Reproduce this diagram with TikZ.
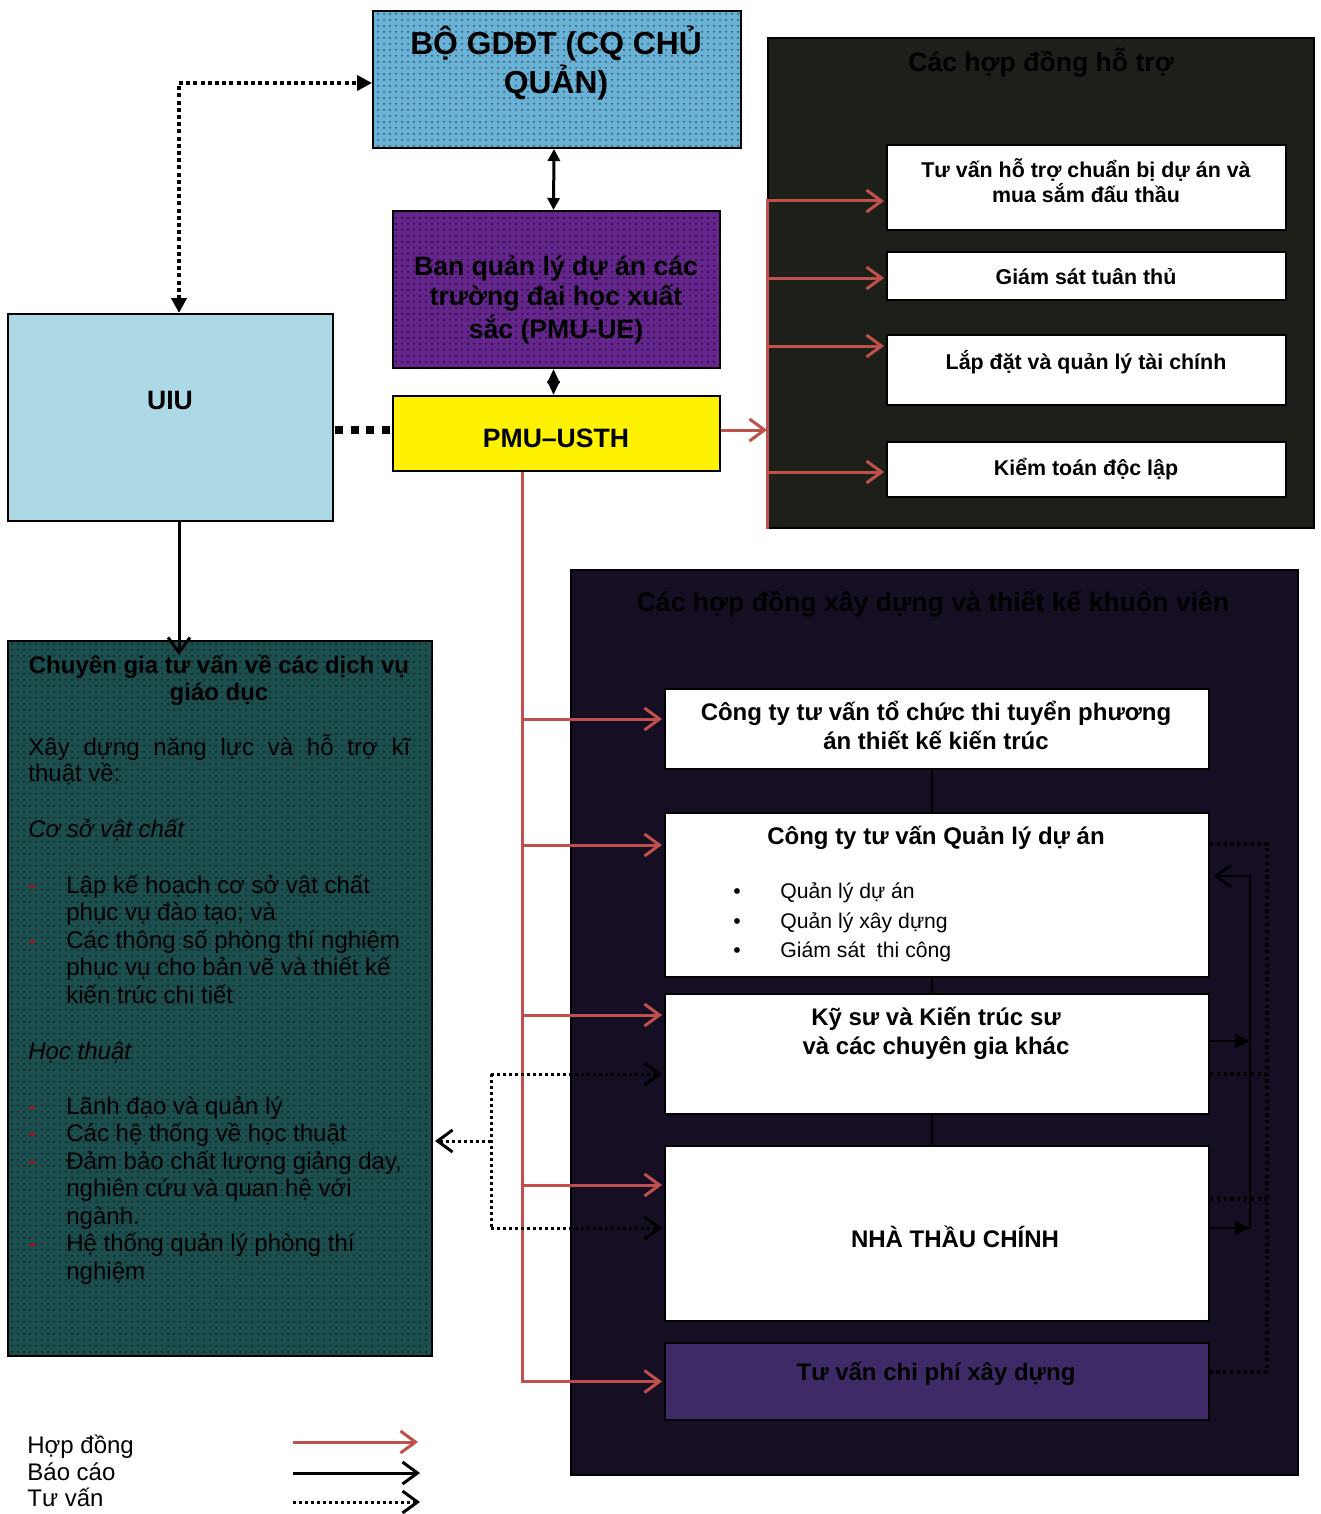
\documentclass[tikz,border=0pt]{standalone}
\usepackage{fontspec}
\setmainfont{Liberation Sans}
\usetikzlibrary{arrows.meta,patterns}
\definecolor{redc}{RGB}{192,80,77}
\definecolor{bofill}{RGB}{104,178,215}
\definecolor{bodot}{RGB}{60,80,90}
\definecolor{uefill}{RGB}{100,38,140}
\definecolor{uedot}{RGB}{30,10,40}
\definecolor{uiufill}{RGB}{173,216,230}
\definecolor{tealfill}{RGB}{28,78,78}
\definecolor{tealdot}{RGB}{10,35,35}
\definecolor{supfill}{RGB}{29,32,24}
\definecolor{confill}{RGB}{22,14,35}
\definecolor{costfill}{RGB}{62,42,102}
\tikzset{
  box/.style={draw=black,line width=1pt,inner sep=0pt,anchor=north west},
  tc/.style={inner sep=0pt,anchor=base},
  tl/.style={inner sep=0pt,anchor=base west},
  contract/.style={draw=redc,line width=1.5pt,-{Straight Barb[length=7.5pt,width=11pt]}},
  redline/.style={draw=redc,line width=1.5pt},
  report/.style={draw=black,line width=1.5pt,-{Straight Barb[length=7.5pt,width=11pt]}},
  advice/.style={draw=black,line width=1.5pt,dash pattern=on 1.5pt off 1.5pt,-{Straight Barb[length=7.5pt,width=11pt]}},
  advline/.style={draw=black,line width=1.5pt,dash pattern=on 1.5pt off 1.5pt},
  thinadv/.style={draw=black,line width=1.6pt,dash pattern=on 1.6pt off 1.8pt},
  fbA/.style={font=\fontsize{15.9pt}{18pt}\selectfont\bfseries},
  fbB/.style={font=\fontsize{13.3pt}{16pt}\selectfont\bfseries},
  fbC/.style={font=\fontsize{10.7pt}{13pt}\selectfont\bfseries},
  fbD/.style={font=\fontsize{12pt}{14pt}\selectfont\bfseries},
  frA/.style={font=\fontsize{10.6pt}{13pt}\selectfont},
  frB/.style={font=\fontsize{12pt}{14pt}\selectfont},
  fiB/.style={font=\fontsize{12pt}{14pt}\selectfont\itshape},
}
\begin{document}
\begin{tikzpicture}[x=0.5pt,y=-0.5pt]
\fill[white] (0,0) rectangle (1321,1514);
\useasboundingbox (0,0) rectangle (1321,1514);

% ---------- boxes ----------
\node[box,fill=bofill,postaction={pattern=dots,pattern color=bodot},minimum width=184pt,minimum height=68.5pt] (bo) at (372,10) {};
\node[box,fill=uefill,postaction={pattern=dots,pattern color=uedot},minimum width=163.5pt,minimum height=78.5pt] (ue) at (392,210) {};
\node[box,fill=yellow,minimum width=163.5pt,minimum height=37.5pt] (usth) at (392,395) {};
\node[box,fill=uiufill,minimum width=162.5pt,minimum height=103.5pt] (uiu) at (7,313) {};
\node[box,fill=tealfill,postaction={pattern=dots,pattern color=tealdot},minimum width=212pt,minimum height=357.5pt] (teal) at (7,640) {};
\node[box,fill=supfill,minimum width=273pt,minimum height=245pt] (sup) at (767,37) {};
\node[box,fill=white,minimum width=199.5pt,minimum height=42.5pt] (s1) at (886,144) {};
\node[box,fill=white,minimum width=199.5pt,minimum height=24pt] (s2) at (886,251) {};
\node[box,fill=white,minimum width=199.5pt,minimum height=35pt] (s3) at (886,334) {};
\node[box,fill=white,minimum width=199.5pt,minimum height=27.5pt] (s4) at (886,441) {};
\node[box,fill=confill,minimum width=363.5pt,minimum height=452.5pt] (con) at (570,569) {};
\node[box,fill=white,minimum width=272pt,minimum height=40pt] (c1) at (664,688) {};
\node[box,fill=white,minimum width=272pt,minimum height=82pt] (c2) at (664,812) {};
\node[box,fill=white,minimum width=272pt,minimum height=60pt] (c3) at (664,993) {};
\node[box,fill=white,minimum width=272pt,minimum height=87.5pt] (c4) at (664,1145) {};
\node[box,fill=costfill,minimum width=272pt,minimum height=38.5pt] (c5) at (664,1342) {};

% ---------- texts ----------
\node[tc,fbA] (tbo1) at (556,55) {BỘ GDĐT (CQ CHỦ};
\node[tc,fbA] (tbo2) at (556,94) {QUẢN)};
\node[tc,fbB] (tue1) at (556,275) {Ban quản lý dự án các};
\node[tc,fbB] (tue2) at (556,306) {trường đại học xuất};
\node[tc,fbB] (tue3) at (556,338) {sắc (PMU-UE)};
\node[tc,fbB] (tusth) at (556,447) {PMU–USTH};
\node[tc,fbB] (tuiu) at (170,409) {UIU};

\node[tc,fbB] (tsup) at (1041,72) {Các hợp đồng hỗ trợ};
\node[tc,fbC] (ts1a) at (1086,178) {Tư vấn hỗ trợ chuẩn bị dự án và};
\node[tc,fbC] (ts1b) at (1086,203) {mua sắm đấu thầu};
\node[tc,fbC] (ts2) at (1086,285) {Giám sát tuân thủ};
\node[tc,fbC] (ts3) at (1086,369) {Lắp đặt và quản lý tài chính};
\node[tc,fbC] (ts4) at (1086,475) {Kiểm toán độc lập};

\node[tc,fbB] (tcon) at (933,611) {Các hợp đồng xây dựng và thiết kế khuôn viên};
\node[tc,fbD] (tc1a) at (936,720) {Công ty tư vấn tổ chức thi tuyển phương};
\node[tc,fbD] (tc1b) at (936,749) {án thiết kế kiến trúc};
\node[tc,fbD] (tc2) at (936,844) {Công ty tư vấn Quản lý dự án};
\node[tc,frA] (bul1) at (737,898) {•};
\node[tc,frA] (bul2) at (737,928) {•};
\node[tc,frA] (bul3) at (737,957) {•};
\node[tl,frA] (tc2a) at (780,898) {Quản lý dự án};
\node[tl,frA] (tc2b) at (780,928) {Quản lý xây dựng};
\node[tl,frA] (tc2c) at (780,957) {Giám sát\ \ thi công};
\node[tc,fbD] (tc3a) at (936,1025) {Kỹ sư và Kiến trúc sư};
\node[tc,fbD] (tc3b) at (936,1054) {và các chuyên gia khác};
\node[tc,fbD] (tc4) at (955,1247) {NHÀ THẦU CHÍNH};
\node[tc,fbD] (tc5) at (936,1380) {Tư vấn chi phí xây dựng};

% teal box texts
\node[tc,fbD] (tt1) at (219,673) {Chuyên gia tư vấn về các dịch vụ};
\node[tc,fbD] (tt2) at (219,700) {giáo dục};
\node[tl,frB] (tp1) at (28,755) {\makebox[191pt][s]{Xây dựng năng lực và hỗ trợ kĩ}};
\node[tl,frB] (tp2) at (28,781) {thuật về:};
\node[tl,fiB] (th1) at (28,837) {Cơ sở vật chất};
\node[tl,frB,text=red!85!black] (d1) at (28,893) {-};
\node[tl,frB,text=red!85!black] (d2) at (28,948) {-};
\node[tl,frB,text=red!85!black] (d3) at (28,1114) {-};
\node[tl,frB,text=red!85!black] (d4) at (28,1141) {-};
\node[tl,frB,text=red!85!black] (d5) at (28,1169) {-};
\node[tl,frB,text=red!85!black] (d6) at (28,1251) {-};
\node[tl,frB] (l1) at (66,893) {Lập kế hoạch cơ sở vật chất};
\node[tl,frB] (l2) at (66,920) {phục vụ đào tạo; và};
\node[tl,frB] (l3) at (66,948) {Các thông số phòng thí nghiệm};
\node[tl,frB] (l4) at (66,975) {phục vụ cho bản vẽ và thiết kế};
\node[tl,frB] (l5) at (66,1003) {kiến trúc chi tiết};
\node[tl,fiB] (th2) at (28,1059) {Học thuật};
\node[tl,frB] (m1) at (66,1114) {Lãnh đạo và quản lý};
\node[tl,frB] (m2) at (66,1141) {Các hệ thống về học thuật};
\node[tl,frB] (m3) at (66,1169) {Đảm bảo chất lượng giảng dạy,};
\node[tl,frB] (m4) at (66,1196) {nghiên cứu và quan hệ với};
\node[tl,frB] (m5) at (66,1224) {ngành.};
\node[tl,frB] (m6) at (66,1251) {Hệ thống quản lý phòng thí};
\node[tl,frB] (m7) at (66,1279) {nghiệm};

% legend
\node[tl,frB] (lg1) at (27,1453) {Hợp đồng};
\node[tl,frB] (lg2) at (27,1480) {Báo cáo};
\node[tl,frB] (lg3) at (27,1506) {Tư vấn};
\coordinate (la1) at (293,1442); \coordinate (lb1) at (418,1442);
\coordinate (la2) at (293,1473); \coordinate (lb2) at (420,1473);
\coordinate (la3) at (293,1502); \coordinate (lb3) at (420,1502);
\draw[contract] (la1) -- (lb1);
\draw[report] (la2) -- (lb2);
\draw[advice] (la3) -- (lb3);

% ---------- connectors (top) ----------
\draw[line width=2pt,dash pattern=on 2pt off 1.6pt,
  {Triangle[length=7.5pt,width=7.5pt]}-{Triangle[length=7.5pt,width=7.5pt]}]
  ([xshift=4.25pt]uiu.north) |- ([yshift=-1.75pt]bo.west);
\draw[line width=1.5pt,{Triangle[length=6pt,width=6pt]}-{Triangle[length=6pt,width=6pt]}]
  ([xshift=-1.5pt]bo.south) -- ([xshift=-1.5pt]ue.north);
\draw[line width=1.5pt,{Triangle[length=7pt,width=6pt]}-{Triangle[length=7pt,width=6pt]}]
  ([xshift=-1.5pt]ue.south) -- ([xshift=-1.5pt]usth.north);
\coordinate (uu) at ([yshift=1.75pt]usth.west);
\draw[line width=4pt,dash pattern=on 4pt off 3.8pt] ([xshift=0.5pt]uu -| uiu.east) -- (uu);
\draw[report,shorten >=-7.5pt] ([xshift=4.25pt]uiu.south) -- ([xshift=4.25pt]uiu.south |- teal.north);
\draw[contract] ([yshift=1.75pt]usth.east) -- ([yshift=1.75pt]usth.east -| sup.west);

% supporting contracts
\coordinate (a1) at ([yshift=-6.75pt,xshift=-1pt]s1.west);
\coordinate (a2) at ([yshift=-1pt,xshift=-1pt]s2.west);
\coordinate (a3) at ([yshift=12pt,xshift=-1pt]s3.west);
\coordinate (a4) at ([yshift=-1.25pt,xshift=-1pt]s4.west);
\draw[redline] (sup.south west) -- ([yshift=0.75pt]a1 -| sup.west);
\draw[contract] (a1 -| sup.west) -- (a1);
\draw[contract] (a2 -| sup.west) -- (a2);
\draw[contract] (a3 -| sup.west) -- (a3);
\draw[contract] (a4 -| sup.west) -- (a4);

% construction contracts trunk
\coordinate (t0) at ([xshift=-17.25pt]usth.south);
\coordinate (b1) at ([yshift=5pt,xshift=-1pt]c1.west);
\coordinate (b2) at ([yshift=25pt,xshift=-1pt]c2.west);
\coordinate (b3) at ([yshift=19.5pt,xshift=-1pt]c3.west);
\coordinate (b4) at ([yshift=24.25pt,xshift=-1pt]c4.west);
\coordinate (b5) at ([xshift=-1pt]c5.west);
\draw[redline] (t0) -- ([yshift=-0.75pt]b5 -| t0);
\draw[contract] (b1 -| t0) -- (b1);
\draw[contract] (b2 -| t0) -- (b2);
\draw[contract] (b3 -| t0) -- (b3);
\draw[contract] (b4 -| t0) -- (b4);
\draw[contract] (b5 -| t0) -- (b5);

% thin vertical links between construction boxes
\draw[line width=0.7pt] ([xshift=-2.5pt]c1.south) -- ([xshift=-2.5pt]c2.north);
\draw[line width=0.7pt] ([xshift=-2.5pt]c2.south) -- ([xshift=-2.5pt]c3.north);
\draw[line width=0.7pt] ([xshift=-2.5pt]c3.south) -- ([xshift=-2.5pt]c4.north);

% left advice connectors
\coordinate (jx) at ([xshift=-86.5pt]c3.west);
\coordinate (d3x) at ([yshift=-10pt,xshift=-1pt]c3.west);
\coordinate (d4x) at ([yshift=2.75pt,xshift=-1pt]c4.west);
\coordinate (tm) at ([yshift=-71.25pt,xshift=1pt]teal.east);
\draw[advline] (jx |- d3x) -- (jx |- d4x);
\draw[advice] (jx |- d3x) -- (d3x);
\draw[advice] (jx |- d4x) -- (d4x);
\draw[advice] (jx |- tm) -- (tm);

% right side report connectors
\coordinate (vx) at ([xshift=20pt]c3.east);
\coordinate (e3) at ([yshift=6.5pt]c3.east);
\coordinate (e4) at ([yshift=2.75pt]c4.east);
\coordinate (e2) at ([yshift=9.5pt,xshift=2pt]c2.east);
\draw[line width=1.3pt,-{Triangle[length=7.5pt,width=6.5pt]}] (e3) -- (e3 -| vx);
\draw[line width=1.3pt,-{Triangle[length=7.5pt,width=6.5pt]}] (e4) -- (e4 -| vx);
\draw[line width=1.3pt,-{Straight Barb[length=7.5pt,width=11pt]}] (e4 -| vx) -- (e2 -| vx) -- (e2);

% right side advice lines
\coordinate (fx) at ([xshift=28.5pt]c2.east);
\coordinate (f2) at ([yshift=25.5pt]c2.east);
\coordinate (f3) at ([yshift=-10pt]c3.east);
\coordinate (f4) at ([yshift=17.25pt]c4.east);
\coordinate (f5) at ([yshift=4.75pt]c5.east);
\draw[thinadv] (f2) -- (f2 -| fx) -- (f5 -| fx) -- (f5);
\draw[thinadv] (f3) -- (f3 -| fx);
\draw[thinadv] (f4) -- (f4 -| fx);
\end{tikzpicture}
\end{document}
